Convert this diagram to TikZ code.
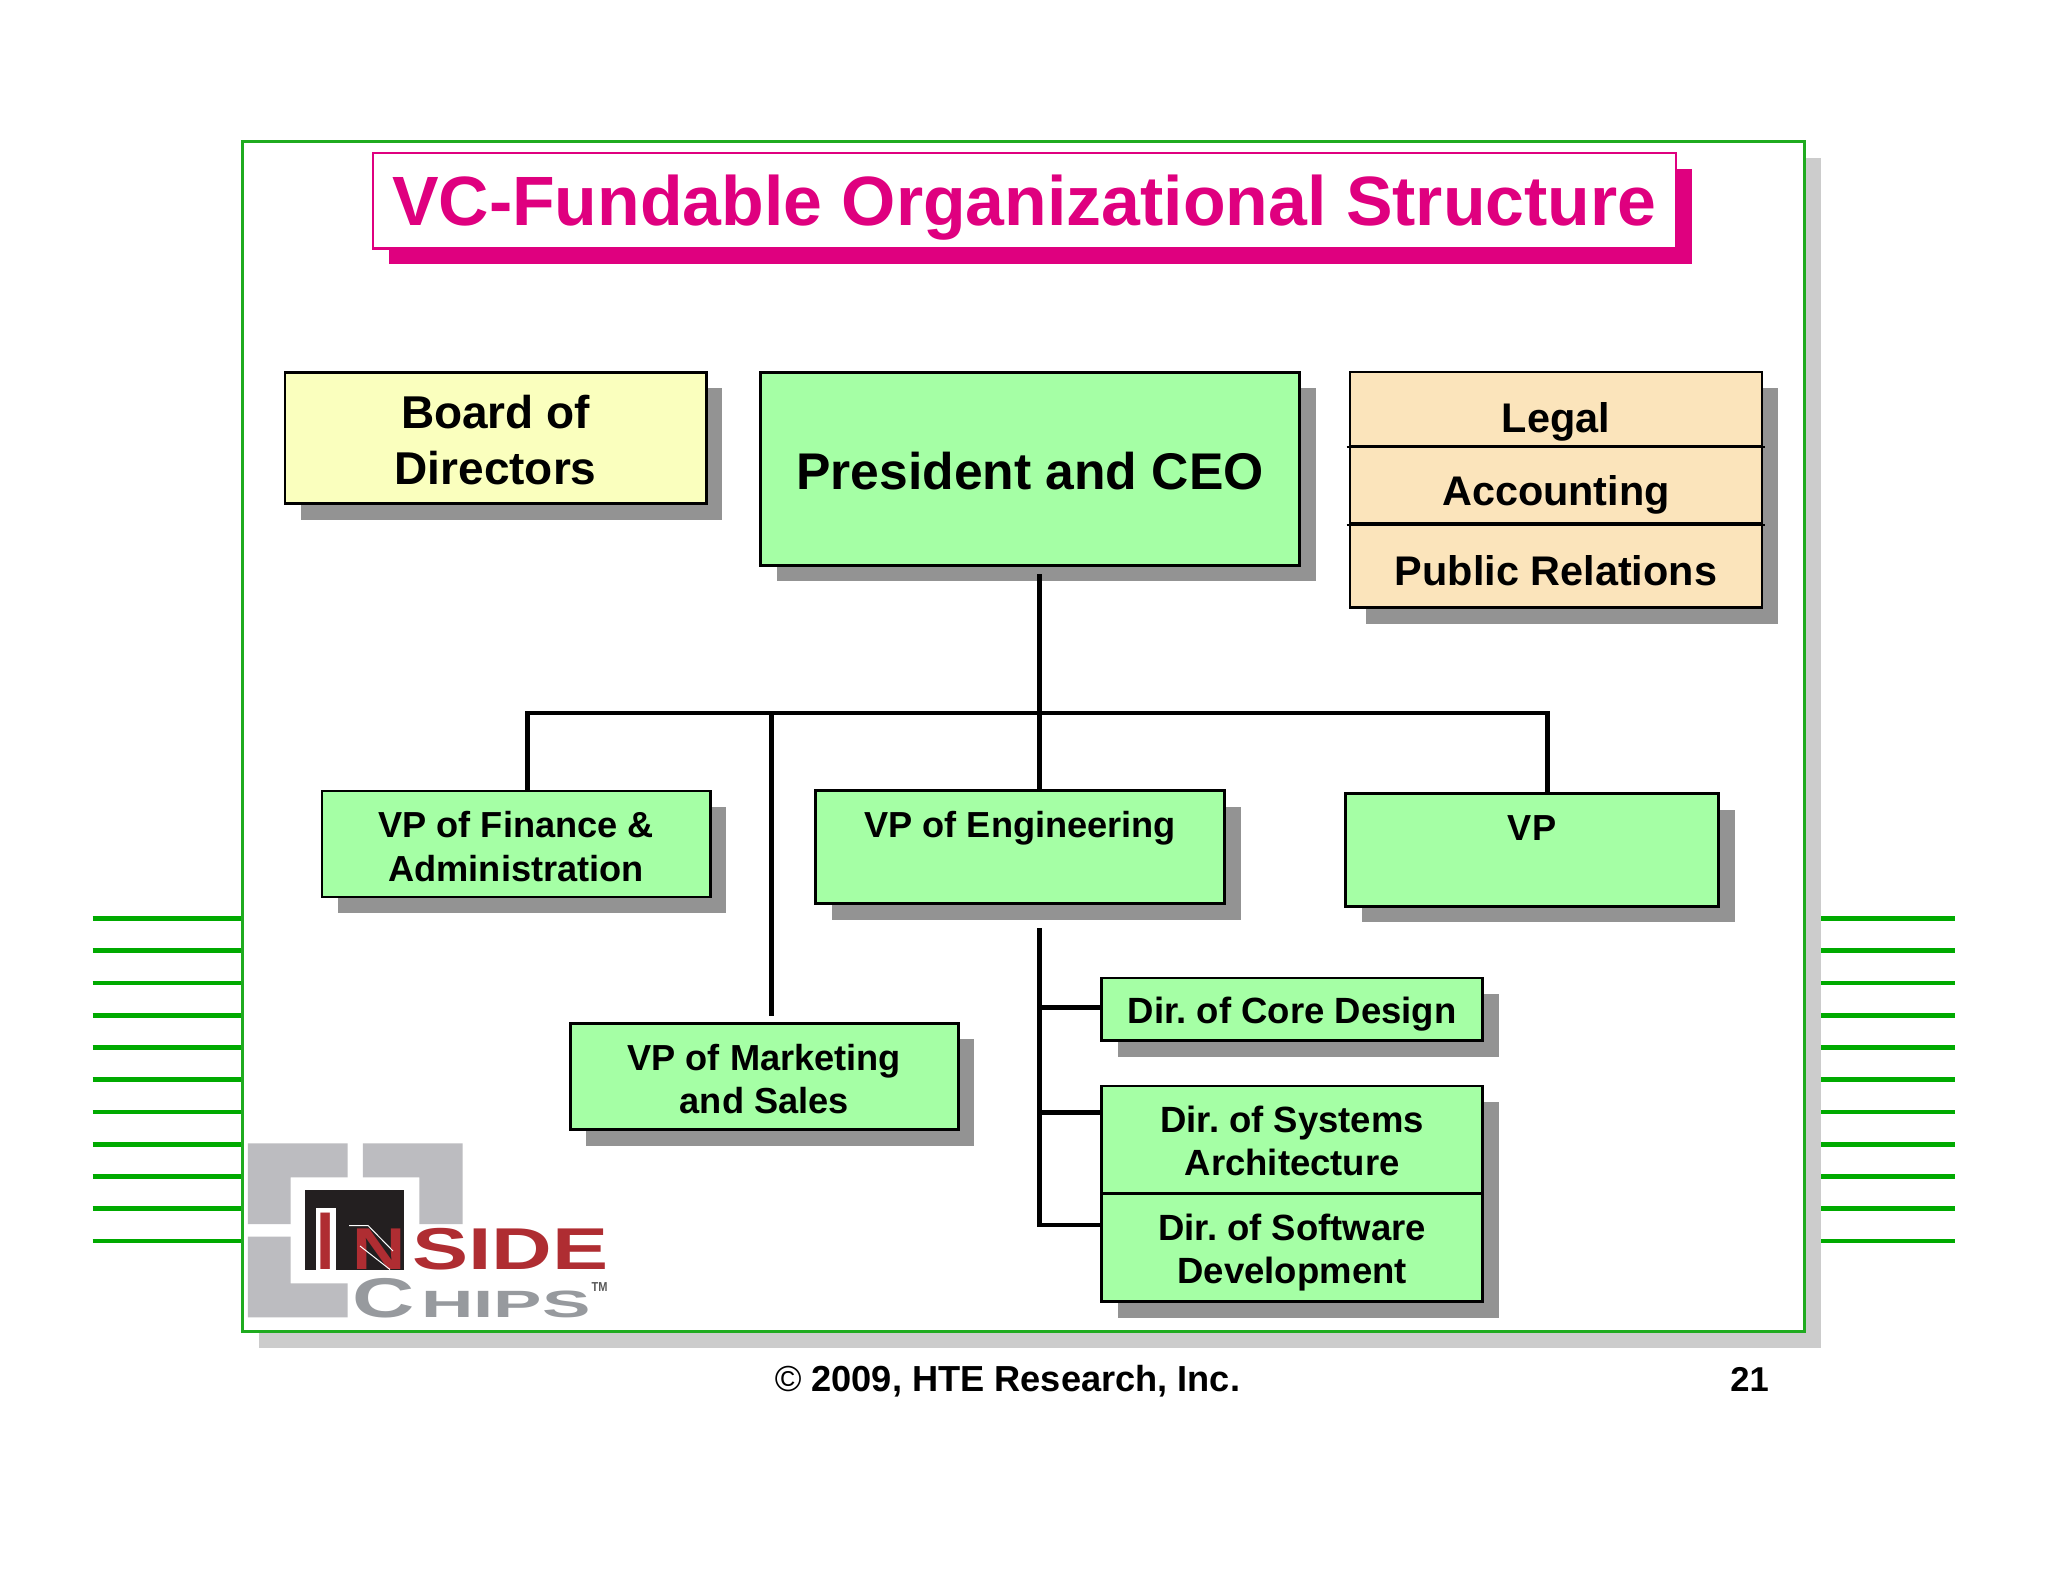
\documentclass[tikz,border=0pt]{standalone}
\usepackage{fontspec}
\setmainfont{Liberation Sans}
\usetikzlibrary{shadows}
\definecolor{framegreen}{HTML}{1FAB1F}
\definecolor{tickgreen}{HTML}{00AA00}
\definecolor{boxgreen}{HTML}{A5FFA5}
\definecolor{boxyellow}{HTML}{FAFFBE}
\definecolor{boxtan}{HTML}{FBE4BB}
\definecolor{titlepink}{HTML}{DF007F}
\definecolor{shadowgray}{HTML}{939393}
\definecolor{frameshadow}{HTML}{CCCCCC}
\definecolor{logogray}{HTML}{BCBCC0}
\definecolor{logotext}{HTML}{979A9E}
\definecolor{logored}{HTML}{AF2D32}
\definecolor{logoblack}{HTML}{231F20}
\newcommand{\boldsize}[2]{\fontsize{#1}{#2}\selectfont\bfseries\frenchspacing}
\tikzset{
  orgbox/.style={draw=black, line width=2.7pt, inner sep=0pt, align=center,
    copy shadow={shadow xshift=16pt, shadow yshift=-16pt, fill=shadowgray, draw=none}},
  greenbox/.style={orgbox, fill=boxgreen},
  tanbox/.style={orgbox, fill=boxtan, minimum width=412pt, font=\boldsize{41.4}{48}},
  vpbox/.style={greenbox, font=\boldsize{36.2}{43.3}},
  dirbox/.style={greenbox, minimum width=381pt, font=\boldsize{36.5}{43.3}},
  bus/.style={line width=4.8pt},
  tick/.style={draw=tickgreen, line width=4.7pt},
  logotxt/.style={inner sep=0pt, anchor=base west},
  footer/.style={inner sep=0pt, anchor=base, font=\boldsize{36.2}{42}}
}
\begin{document}
\begin{tikzpicture}[x=1pt,y=-1pt]
\useasboundingbox[fill=white] (0,0) rectangle (2048,1582);
% side ticks
\foreach \ty in {0,...,10} {
  \draw[tick] (92.7,918.4+32.25*\ty) -- (241,918.4+32.25*\ty);
  \draw[tick] (1820,918.4+32.25*\ty) -- (1954.5,918.4+32.25*\ty);
}
% slide frame
\node[draw=framegreen, line width=3pt, fill=white, minimum width=1562pt, minimum height=1190pt,
  copy shadow={shadow xshift=16pt, shadow yshift=-16pt, fill=frameshadow, draw=none}] (slide) at (1023.7,736.7) {};
% title
\node[draw=titlepink, line width=2.4pt, fill=white, inner sep=0pt, minimum width=1303pt, minimum height=95.7pt,
  text=titlepink, text height=64.4pt, text depth=15pt, font=\boldsize{69.8}{80},
  copy shadow={shadow xshift=16pt, shadow yshift=-16pt, fill=titlepink, draw=none}] (title) at (1024.2,200.6) {VC-Fundable Organizational Structure};
% top row
\node[orgbox, fill=boxyellow, minimum width=421.5pt, minimum height=131.5pt, font=\boldsize{46}{56}, text height=93.6pt] (board) at (495.6,438) {Board of\\Directors};
\node[greenbox, minimum width=539pt, minimum height=193.3pt, text height=41.5pt, font=\boldsize{51.6}{60}] (ceo) at (1030,468.8) {President and CEO};
\node[tanbox, minimum height=74pt, text height=56.4pt, text depth=9pt] (legal) at (1556,409) {Legal};
\node[tanbox, minimum height=77.7pt, text height=49.3pt, text depth=9pt] (acct) at (1556,484.85) {Accounting};
\node[tanbox, minimum height=84pt, text height=39.6pt, text depth=1pt] (pr) at (1556,565.7) {Public Relations};
\draw[line width=2.2pt] ([xshift=-2pt]legal.south west) -- ([xshift=2pt]legal.south east);
\draw[line width=2.2pt] ([xshift=-2pt]acct.south west) -- ([xshift=2pt]acct.south east);
% VPs
\node[vpbox, minimum width=388.2pt, minimum height=106.2pt, text height=74.6pt] (fin) at (516.2,844) {VP of Finance \&\\Administration};
\node[vpbox, minimum width=409pt, minimum height=112.8pt, text height=68pt] (eng) at (1020.2,847.2) {VP of Engineering\\~};
\node[vpbox, minimum width=373pt, minimum height=112.8pt, text height=68pt] (vpo) at (1532,849.9) {VP\\~};
\node[vpbox, minimum width=388.2pt, minimum height=106.2pt, text height=74.6pt] (mkt) at (764.3,1076.4) {VP of Marketing\\and Sales};
% directors
\node[dirbox, minimum height=62.6pt, text height=36pt, text depth=8pt] (core) at (1292.2,1009.2) {Dir. of Core Design};
\node[dirbox, minimum height=107.2pt, text height=71.6pt] (sys) at (1292.2,1139.7) {Dir. of Systems\\Architecture};
\node[dirbox, minimum height=108.4pt, text height=80pt] (sw) at (1292.2,1247.5) {Dir. of Software\\Development};
% connectors
\coordinate (ceodrop) at (1039.4,574);
\coordinate (busmid) at (1039.4,712.9);
\coordinate (busleft) at (527.5,712.9);
\coordinate (busright) at (1547.3,712.9);
\coordinate (busmkt) at (771.7,712.9);
\coordinate (mkttop) at (771.7,1015.8);
\coordinate (dirtop) at (1039.4,930.7);
\coordinate (dircore) at (1039.4,1007.7);
\coordinate (dirsys) at (1039.4,1112.3);
\coordinate (dirsw) at (1039.4,1225);
\draw[bus] (ceodrop) -- (busmid |- eng.north);
\draw[bus, line cap=rect] (busleft) -- (busright);
\draw[bus] (busleft) -- (busleft |- fin.north);
\draw[bus] (busright) -- (busright |- vpo.north);
\draw[bus] (busmkt) -- (mkttop);
\draw[bus, line cap=rect] (dirtop) -- (dirsw);
\draw[bus] (dircore) -- (dircore -| core.west);
\draw[bus] (dirsys) -- (dirsys -| sys.west);
\draw[bus] (dirsw) -- (dirsw -| sw.west);
% logo
\fill[logogray] (247.8,1143.3) -| (347.5,1177.3) -| (290.5,1224) -| cycle;
\fill[logogray] (362.9,1143.3) -| (462.5,1224) -| (419.4,1177.3) -| cycle;
\fill[logogray] (247.8,1236.7) -| (290.5,1283.3) -| (347.5,1317.3) -| cycle;
\fill[logoblack] (305,1190) rectangle (404,1270);
\fill[white] (315.7,1208) rectangle (336,1270);
\node[logotxt, text=logored, font=\boldsize{82}{82}, xscale=0.8] (insi) at (316.2,1269.3) {I};
\node[logotxt, text=logored, font=\boldsize{59}{59}, xscale=1.25] (insn) at (352.5,1269.3) {N};
\draw[white, line width=1pt] (349,1225.5) -- (368,1225.5) -- (393,1251);
\draw[white, line width=1pt] (360,1246) -- (390,1269.5);
\node[logotxt, text=logored, font=\boldsize{59}{59}, xscale=1.425] (inss) at (412,1269.3) {SIDE};
\node[logotxt, text=logotext, font=\boldsize{56}{56}, xscale=1.54] (chc) at (352.5,1317.6) {C};
\node[logotxt, text=logotext, font=\boldsize{38}{38}, xscale=1.91] (chh) at (421,1317.6) {HIPS};
\node[logotxt, text=black!65, font=\boldsize{13}{13}, xscale=0.85] (chtm) at (591.5,1291) {TM};
% footer
\node[footer] (copy) at (1007.5,1391.4) {{\mdseries\textcopyright} 2009, HTE Research, Inc.};
\node[footer, font=\boldsize{34.5}{42}] (page) at (1749.5,1391.4) {21};
\end{tikzpicture}
\end{document}
